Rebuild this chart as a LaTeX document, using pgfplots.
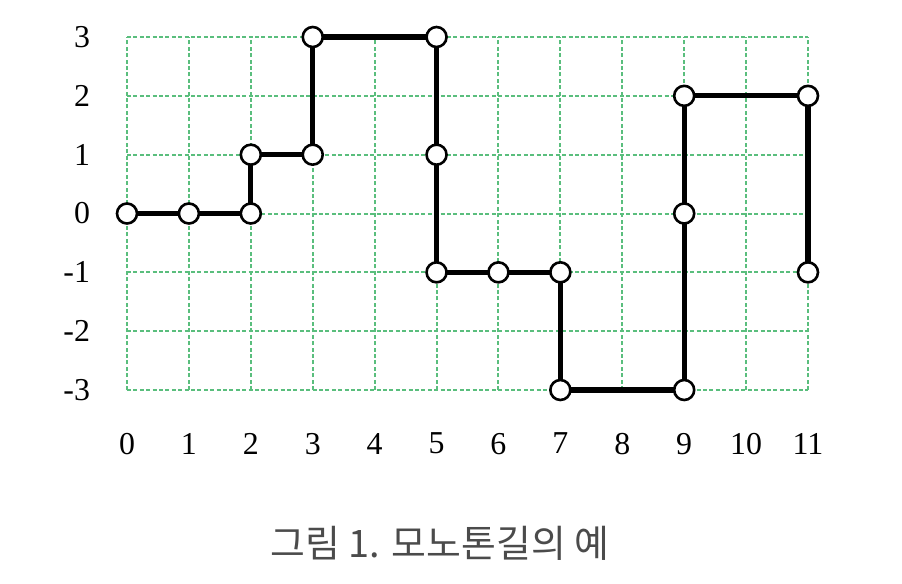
\documentclass[border=0pt]{standalone}
\usepackage{fontspec}
\setmainfont{Liberation Serif}
\newfontfamily\cjk{Noto Sans CJK KR}
\usepackage{pgfplots}
\pgfplotsset{compat=1.18}
\definecolor{gridgreen}{RGB}{90,190,125}
\definecolor{capgray}{RGB}{75,75,75}
\begin{document}
\begin{tikzpicture}
\begin{axis}[
  at={(0,0)}, anchor=south west,
  scale only axis,
  width=340.5bp, height=176.5bp,
  xmin=0, xmax=11, ymin=-3, ymax=3,
  xtick={0,...,11}, ytick={-3,...,3},
  xmajorgrids, ymajorgrids,
  major grid style={color=gridgreen, line width=1bp, dash pattern=on 2bp off 1.2bp},
  x grid style={color=gridgreen, line width=1bp, dash pattern=on 2bp off 1.2bp},
  y grid style={color=gridgreen, line width=1bp, dash pattern=on 2bp off 1.2bp},
  axis line style={draw=none},
  major tick length=0pt,
  clip=false,
  /pgf/number format/assume math mode=true,
  tick label style={font=\fontsize{16}{19}\selectfont},
  xticklabel style={yshift=-18bp},
  yticklabel style={xshift=-15bp},
]
\addplot[black, line width=2.6bp, mark=*, mark size=5bp,
  mark options={fill=white, draw=black, line width=1.3bp}]
  coordinates {(0,0)(1,0)(2,0)(2,1)(3,1)(3,3)(5,3)(5,1)(5,-1)(6,-1)(7,-1)(7,-3)(9,-3)(9,0)(9,2)(11,2)(11,-1)};
\end{axis}
\node[text=capgray, font=\cjk\fontsize{19}{22}\selectfont] at (156.5bp,-76.5bp) {그림 1. 모노톤길의 예};
\path[use as bounding box] (-63.5bp,-97bp) rectangle (387.5bp,195bp);
\end{tikzpicture}
\end{document}
